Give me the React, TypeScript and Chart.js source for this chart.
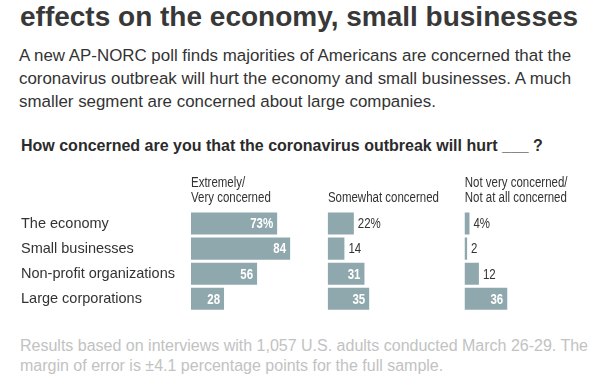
import React, { useEffect, useRef } from "react";
import { Chart, registerables } from "chart.js";

Chart.register(...registerables);

// ---- Data ----
const categories = ["The economy", "Small businesses", "Non-profit organizations", "Large corporations"];
const extremelyVery = [73, 84, 56, 28];
const somewhat = [22, 14, 31, 35];
const notVery = [4, 2, 12, 36];
const seriesValues = [extremelyVery, somewhat, notVery];
const columnHeaders = [
  ["Extremely/", "Very concerned"],
  ["", "Somewhat concerned"],
  ["Not very concerned/", "Not at all concerned"],
];

const titleText = "effects on the economy, small businesses";
const descriptionLines = [
  "A new AP-NORC poll finds majorities of Americans are concerned that the",
  "coronavirus outbreak will hurt the economy and small businesses. A much",
  "smaller segment are concerned about large companies.",
];
const questionText = "How concerned are you that the coronavirus outbreak will hurt ___ ?";
const footnoteLines = [
  "Results based on interviews with 1,057 U.S. adults conducted March 26-29. The",
  "margin of error is \u00b14.1 percentage points for the full sample.",
];

// ---- Layout / style ----
const COLUMN_STEP = 116; // x-units between column starts
const X_MAX = 350;
const BAR_COLOR = "#8fa8ae";
const TEXT_COLOR = "#333333";
const SANS = "'Liberation Sans', Arial, sans-serif";
const NARROW_SCALE = 0.82;

function drawNarrow(ctx: CanvasRenderingContext2D, text: string, x: number, y: number) {
  ctx.save();
  ctx.translate(x, y);
  ctx.scale(NARROW_SCALE, 1);
  ctx.fillText(text, 0, 0);
  ctx.restore();
}

const labelsPlugin = {
  id: "labelsPlugin",
  afterDraw(chart: any) {
    const ctx = chart.ctx as CanvasRenderingContext2D;
    const xScale = chart.scales.x;
    const top = chart.chartArea.top;
    ctx.save();
    // column headers
    ctx.fillStyle = TEXT_COLOR;
    ctx.font = `14px ${SANS}`;
    ctx.textAlign = "left";
    ctx.textBaseline = "alphabetic";
    columnHeaders.forEach((lines, i) => {
      const x = xScale.getPixelForValue(i * COLUMN_STEP);
      drawNarrow(ctx, lines[0], x, top - 24.5);
      drawNarrow(ctx, lines[1], x, top - 9.5);
    });
    // value labels
    ctx.textBaseline = "middle";
    seriesValues.forEach((vals, i) => {
      const meta = chart.getDatasetMeta(i);
      meta.data.forEach((el: any, j: number) => {
        const v = vals[j];
        const text = j === 0 ? `${v}%` : `${v}`;
        if (v >= 25) {
          ctx.fillStyle = "#ffffff";
          ctx.font = `bold 14px ${SANS}`;
          ctx.textAlign = "right";
          drawNarrow(ctx, text, el.x - 4, el.y + 1);
        } else {
          ctx.fillStyle = TEXT_COLOR;
          ctx.font = `14px ${SANS}`;
          ctx.textAlign = "left";
          drawNarrow(ctx, text, el.x + 4, el.y + 1);
        }
      });
    });
    ctx.restore();
  },
};

function BarChart() {
  const ref = useRef<HTMLCanvasElement | null>(null);
  useEffect(() => {
    if (!ref.current) return;
    const chart = new Chart(ref.current, {
      type: "bar",
      data: {
        labels: categories,
        datasets: seriesValues.map((vals, i) => ({
          label: columnHeaders[i].join(" "),
          data: vals.map((v) => [i * COLUMN_STEP, i * COLUMN_STEP + v]),
          backgroundColor: BAR_COLOR,
          borderWidth: 0,
          barPercentage: 0.88,
          categoryPercentage: 1,
          grouped: false,
        })) as any,
      },
      options: {
        indexAxis: "y",
        responsive: false,
        animation: false,
        devicePixelRatio: 1,
        layout: { padding: { left: 21, right: 8, top: 51, bottom: 7 } },
        plugins: {
          legend: { display: false },
          tooltip: { enabled: false },
          title: { display: false },
        },
        scales: {
          x: { type: "linear", min: 0, max: X_MAX, display: false },
          y: {
            type: "category",
            grid: { display: false, drawTicks: false },
            border: { display: false },
            afterFit: (scale: any) => {
              scale.width = 170;
            },
            ticks: {
              crossAlign: "far",
              color: TEXT_COLOR,
              font: { family: SANS, size: 14.5 },
              padding: 0,
            },
          },
        },
      } as any,
      plugins: [labelsPlugin],
    });
    return () => chart.destroy();
  }, []);
  return (
    <canvas
      ref={ref}
      width={612}
      height={160}
      style={{ position: "absolute", left: 0, top: 160, width: 612, height: 160 }}
    />
  );
}

export default function App() {
  return (
    <div
      style={{
        position: "absolute",
        left: 0,
        top: 0,
        width: 612,
        height: 374,
        overflow: "hidden",
        background: "#ffffff",
        fontFamily: SANS,
        color: TEXT_COLOR,
      }}
    >
      <div
        style={{
          position: "absolute",
          left: 20,
          top: 1,
          fontSize: 28,
          lineHeight: "32px",
          fontWeight: "bold",
          whiteSpace: "nowrap",
          color: "#383838",
        }}
      >
        {titleText}
      </div>
      <div
        style={{
          position: "absolute",
          left: 19,
          top: 43.8,
          fontSize: 16.9,
          lineHeight: "23.3px",
          whiteSpace: "nowrap",
        }}
      >
        {descriptionLines.map((l, i) => (
          <div key={i}>{l}</div>
        ))}
      </div>
      <div
        style={{
          position: "absolute",
          left: 21,
          top: 136.2,
          fontSize: 16,
          lineHeight: "20px",
          fontWeight: "bold",
          whiteSpace: "nowrap",
          color: "#2b2b2b",
        }}
      >
        {questionText}
      </div>
      <BarChart />
      <div
        style={{
          position: "absolute",
          left: 20,
          top: 335.5,
          fontSize: 16,
          lineHeight: "20.5px",
          whiteSpace: "nowrap",
          color: "#c2c2c2",
        }}
      >
        {footnoteLines.map((l, i) => (
          <div key={i}>{l}</div>
        ))}
      </div>
    </div>
  );
}
